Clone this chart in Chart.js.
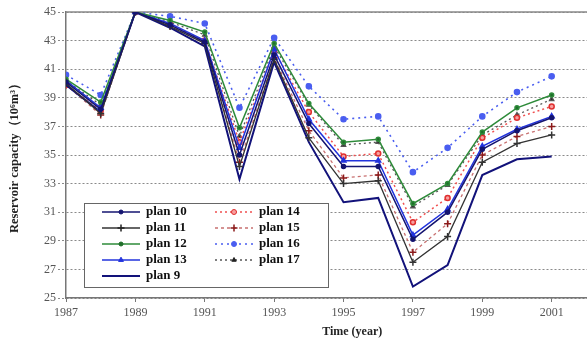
<!DOCTYPE html>
<html lang="en">
<head>
<meta charset="UTF-8">
<title>Reservoir capacity</title>
<script src="https://cdn.jsdelivr.net/npm/chart.js"></script>
<style>
  html, body { margin: 0; padding: 0; background: #fff; overflow: hidden; }
  /* plot is wider than the window, the right part is cut off like the original figure */
  #wrap { width: 644px; height: 343px; }
</style>
</head>
<body>
<div id="wrap"><canvas id="chart"></canvas></div>
<script>
// years on the x axis
const years = [1987, 1988, 1989, 1990, 1991, 1992, 1993, 1994, 1995, 1996, 1997, 1998, 1999, 2000, 2001];

// reservoir capacity (10^6 m^3)
const plan10 = [40.1, 38.2, 45, 44.1, 42.9, 35.0, 42.0, 37.2, 34.2, 34.2, 29.1, 31.0, 35.4, 36.7, 37.6];
const plan11 = [40.0, 37.9, 45, 44.0, 42.8, 34.2, 41.7, 36.2, 33.0, 33.2, 27.5, 29.3, 34.5, 35.8, 36.4];
const plan12 = [40.3, 38.7, 45, 44.4, 43.6, 36.9, 42.8, 38.6, 35.9, 36.1, 31.6, 33.0, 36.6, 38.3, 39.2];
const plan13 = [40.2, 38.3, 45, 44.2, 43.0, 35.5, 42.4, 37.5, 34.6, 34.6, 29.4, 31.2, 35.6, 36.8, 37.7];
const plan9  = [39.9, 38.0, 45, 43.9, 42.6, 33.3, 41.5, 35.9, 31.7, 32.0, 25.8, 27.3, 33.6, 34.7, 34.9];
const plan14 = [39.9, 38.1, 45, 44.1, 43.0, 35.9, 42.3, 38.0, 34.9, 35.1, 30.3, 32.0, 36.2, 37.6, 38.4];
const plan15 = [39.9, 37.8, 45, 44.0, 42.8, 34.5, 41.8, 36.7, 33.4, 33.6, 28.2, 30.2, 35.0, 36.3, 37.0];
const plan16 = [40.6, 39.2, 45, 44.7, 44.2, 38.3, 43.2, 39.8, 37.5, 37.7, 33.8, 35.5, 37.7, 39.4, 40.5];
const plan17 = [40.2, 38.5, 45, 44.3, 43.4, 36.3, 42.6, 38.5, 35.7, 35.9, 31.4, 32.9, 36.4, 37.8, 38.9];

const yTicks = [25, 27, 29, 31, 33, 35, 37, 39, 41, 43, 45];
const xTicks = [1987, 1989, 1991, 1993, 1995, 1997, 1999, 2001, 2003];

function pts(vals) {
  return vals.map((v, i) => ({ x: years[i], y: v }));
}

const serif = "'Liberation Serif', 'DejaVu Serif', serif";

const datasets = [
  { label: 'plan 10', data: pts(plan10), borderColor: '#141470', backgroundColor: '#141470',
    borderWidth: 1.5, pointStyle: 'circle', pointRadius: 2, col: 0 },
  { label: 'plan 11', data: pts(plan11), borderColor: '#333333', backgroundColor: '#222222',
    borderWidth: 1.3, pointStyle: 'cross', pointRadius: 3.5, pointBorderWidth: 1.5, col: 0 },
  { label: 'plan 12', data: pts(plan12), borderColor: '#2e8b3a', backgroundColor: '#1f6e2a',
    borderWidth: 1.5, pointStyle: 'circle', pointRadius: 2, col: 0 },
  { label: 'plan 13', data: pts(plan13), borderColor: '#2233dd', backgroundColor: '#2233dd',
    borderWidth: 1.5, pointStyle: 'triangle', pointRadius: 2.8, col: 0 },
  { label: 'plan 9', data: pts(plan9), borderColor: '#12127a', backgroundColor: '#12127a',
    borderWidth: 2, pointRadius: 0, col: 0 },
  { label: 'plan 14', data: pts(plan14), borderColor: '#f05050', backgroundColor: '#f7a0a0',
    pointBorderColor: '#e03030', borderWidth: 1.5, borderDash: [2, 3], pointStyle: 'circle',
    pointRadius: 2.5, col: 1 },
  { label: 'plan 15', data: pts(plan15), borderColor: '#c87070', backgroundColor: '#8b1a1a',
    pointBorderColor: '#8b1a1a', borderWidth: 1.3, borderDash: [3, 3], pointStyle: 'cross',
    pointRadius: 3.5, pointBorderWidth: 1.5, col: 1 },
  { label: 'plan 16', data: pts(plan16), borderColor: '#4a5ef0', backgroundColor: '#4a5ef0',
    borderWidth: 1.6, borderDash: [2, 4], pointStyle: 'circle', pointRadius: 2.5, col: 1 },
  { label: 'plan 17', data: pts(plan17), borderColor: '#555555', backgroundColor: '#222222',
    borderWidth: 1.3, borderDash: [2, 3], pointStyle: 'triangle', pointRadius: 2.5, col: 1 }
];

// legend box drawn inside the plot, two columns like the original
const boxLegend = {
  id: 'boxLegend',
  beforeDatasetsDraw(chart) {
    // solid frame line along the top of the plot
    const a = chart.chartArea, ctx = chart.ctx;
    ctx.save();
    ctx.strokeStyle = '#888';
    ctx.lineWidth = 1.5;
    ctx.beginPath();
    ctx.moveTo(a.left, a.top);
    ctx.lineTo(a.right, a.top);
    ctx.stroke();
    ctx.restore();
  },
  afterDraw(chart) {
    const ctx = chart.ctx;
    const x0 = 84, y0 = 203, w = 244, h = 84;
    ctx.save();
    ctx.fillStyle = '#fff';
    ctx.fillRect(x0, y0, w, h);
    ctx.strokeStyle = '#666';
    ctx.lineWidth = 1;
    ctx.strokeRect(x0 + 0.5, y0 + 0.5, w, h);
    const rows = [0, 0];
    chart.data.datasets.forEach(ds => {
      const c = ds.col;
      const r = rows[c]++;
      const lx = c === 0 ? 102 : 215;
      const ly = y0 + 9 + r * 16;
      ctx.strokeStyle = ds.borderColor;
      ctx.lineWidth = ds.borderWidth;
      ctx.setLineDash(ds.borderDash || []);
      ctx.beginPath();
      ctx.moveTo(lx, ly);
      ctx.lineTo(lx + 38, ly);
      ctx.stroke();
      ctx.setLineDash([]);
      if (ds.pointRadius > 0) {
        ctx.fillStyle = ds.backgroundColor;
        ctx.strokeStyle = ds.pointBorderColor || ds.backgroundColor;
        ctx.lineWidth = ds.pointBorderWidth || 1;
        Chart.helpers.drawPoint(ctx, { pointStyle: ds.pointStyle, radius: ds.pointRadius,
          borderWidth: ds.pointBorderWidth || 1 }, lx + 19, ly);
      }
      ctx.fillStyle = '#111';
      ctx.font = 'bold 13px ' + serif;
      ctx.textBaseline = 'middle';
      ctx.fillText(ds.label, lx + 44, ly);
    });
    ctx.restore();
  }
};

new Chart(document.getElementById('chart'), {
  type: 'line',
  data: { datasets: datasets },
  options: {
    responsive: true,
    maintainAspectRatio: false,
    animation: false,
    layout: { padding: { top: 12, right: 0, left: 0, bottom: 0 } },
    plugins: { legend: { display: false }, tooltip: { enabled: false } },
    elements: { line: { tension: 0 } },
    scales: {
      x: {
        type: 'linear',
        min: 1987,
        max: 2003.5,
        afterFit: s => { s.height = 45; },
        afterBuildTicks: s => { s.ticks = xTicks.map(v => ({ value: v })); },
        ticks: {
          callback: v => String(v),
          color: '#555', font: { family: serif, size: 12 }, maxRotation: 0, padding: 4
        },
        grid: { drawOnChartArea: false, color: '#777', tickLength: 4 },
        border: { color: '#777', width: 1.5 },
        title: {
          display: true, text: 'Time (year)', color: '#222',
          font: { family: serif, size: 12, weight: 'bold' }, padding: { top: 0, bottom: 4 }
        }
      },
      y: {
        min: 25,
        max: 45,
        afterFit: s => { s.width = 66; },
        afterBuildTicks: s => { s.ticks = yTicks.map(v => ({ value: v })); },
        ticks: { color: '#555', font: { family: serif, size: 12 }, padding: 2 },
        grid: {
          color: '#8a8a8a',
          lineWidth: 1,
          tickLength: 8,
          tickBorderDash: [2, 2]
        },
        border: { color: '#777', width: 1.5, dash: [2, 2] },
        title: {
          display: true, text: 'Reservoir capacity\uff0810\u2076m\u00b3\uff09', color: '#222',
          font: { family: serif, size: 12.5, weight: 'bold' }, padding: { top: 7, bottom: 2 }
        }
      }
    }
  },
  plugins: [boxLegend]
});
</script>
</body>
</html>
